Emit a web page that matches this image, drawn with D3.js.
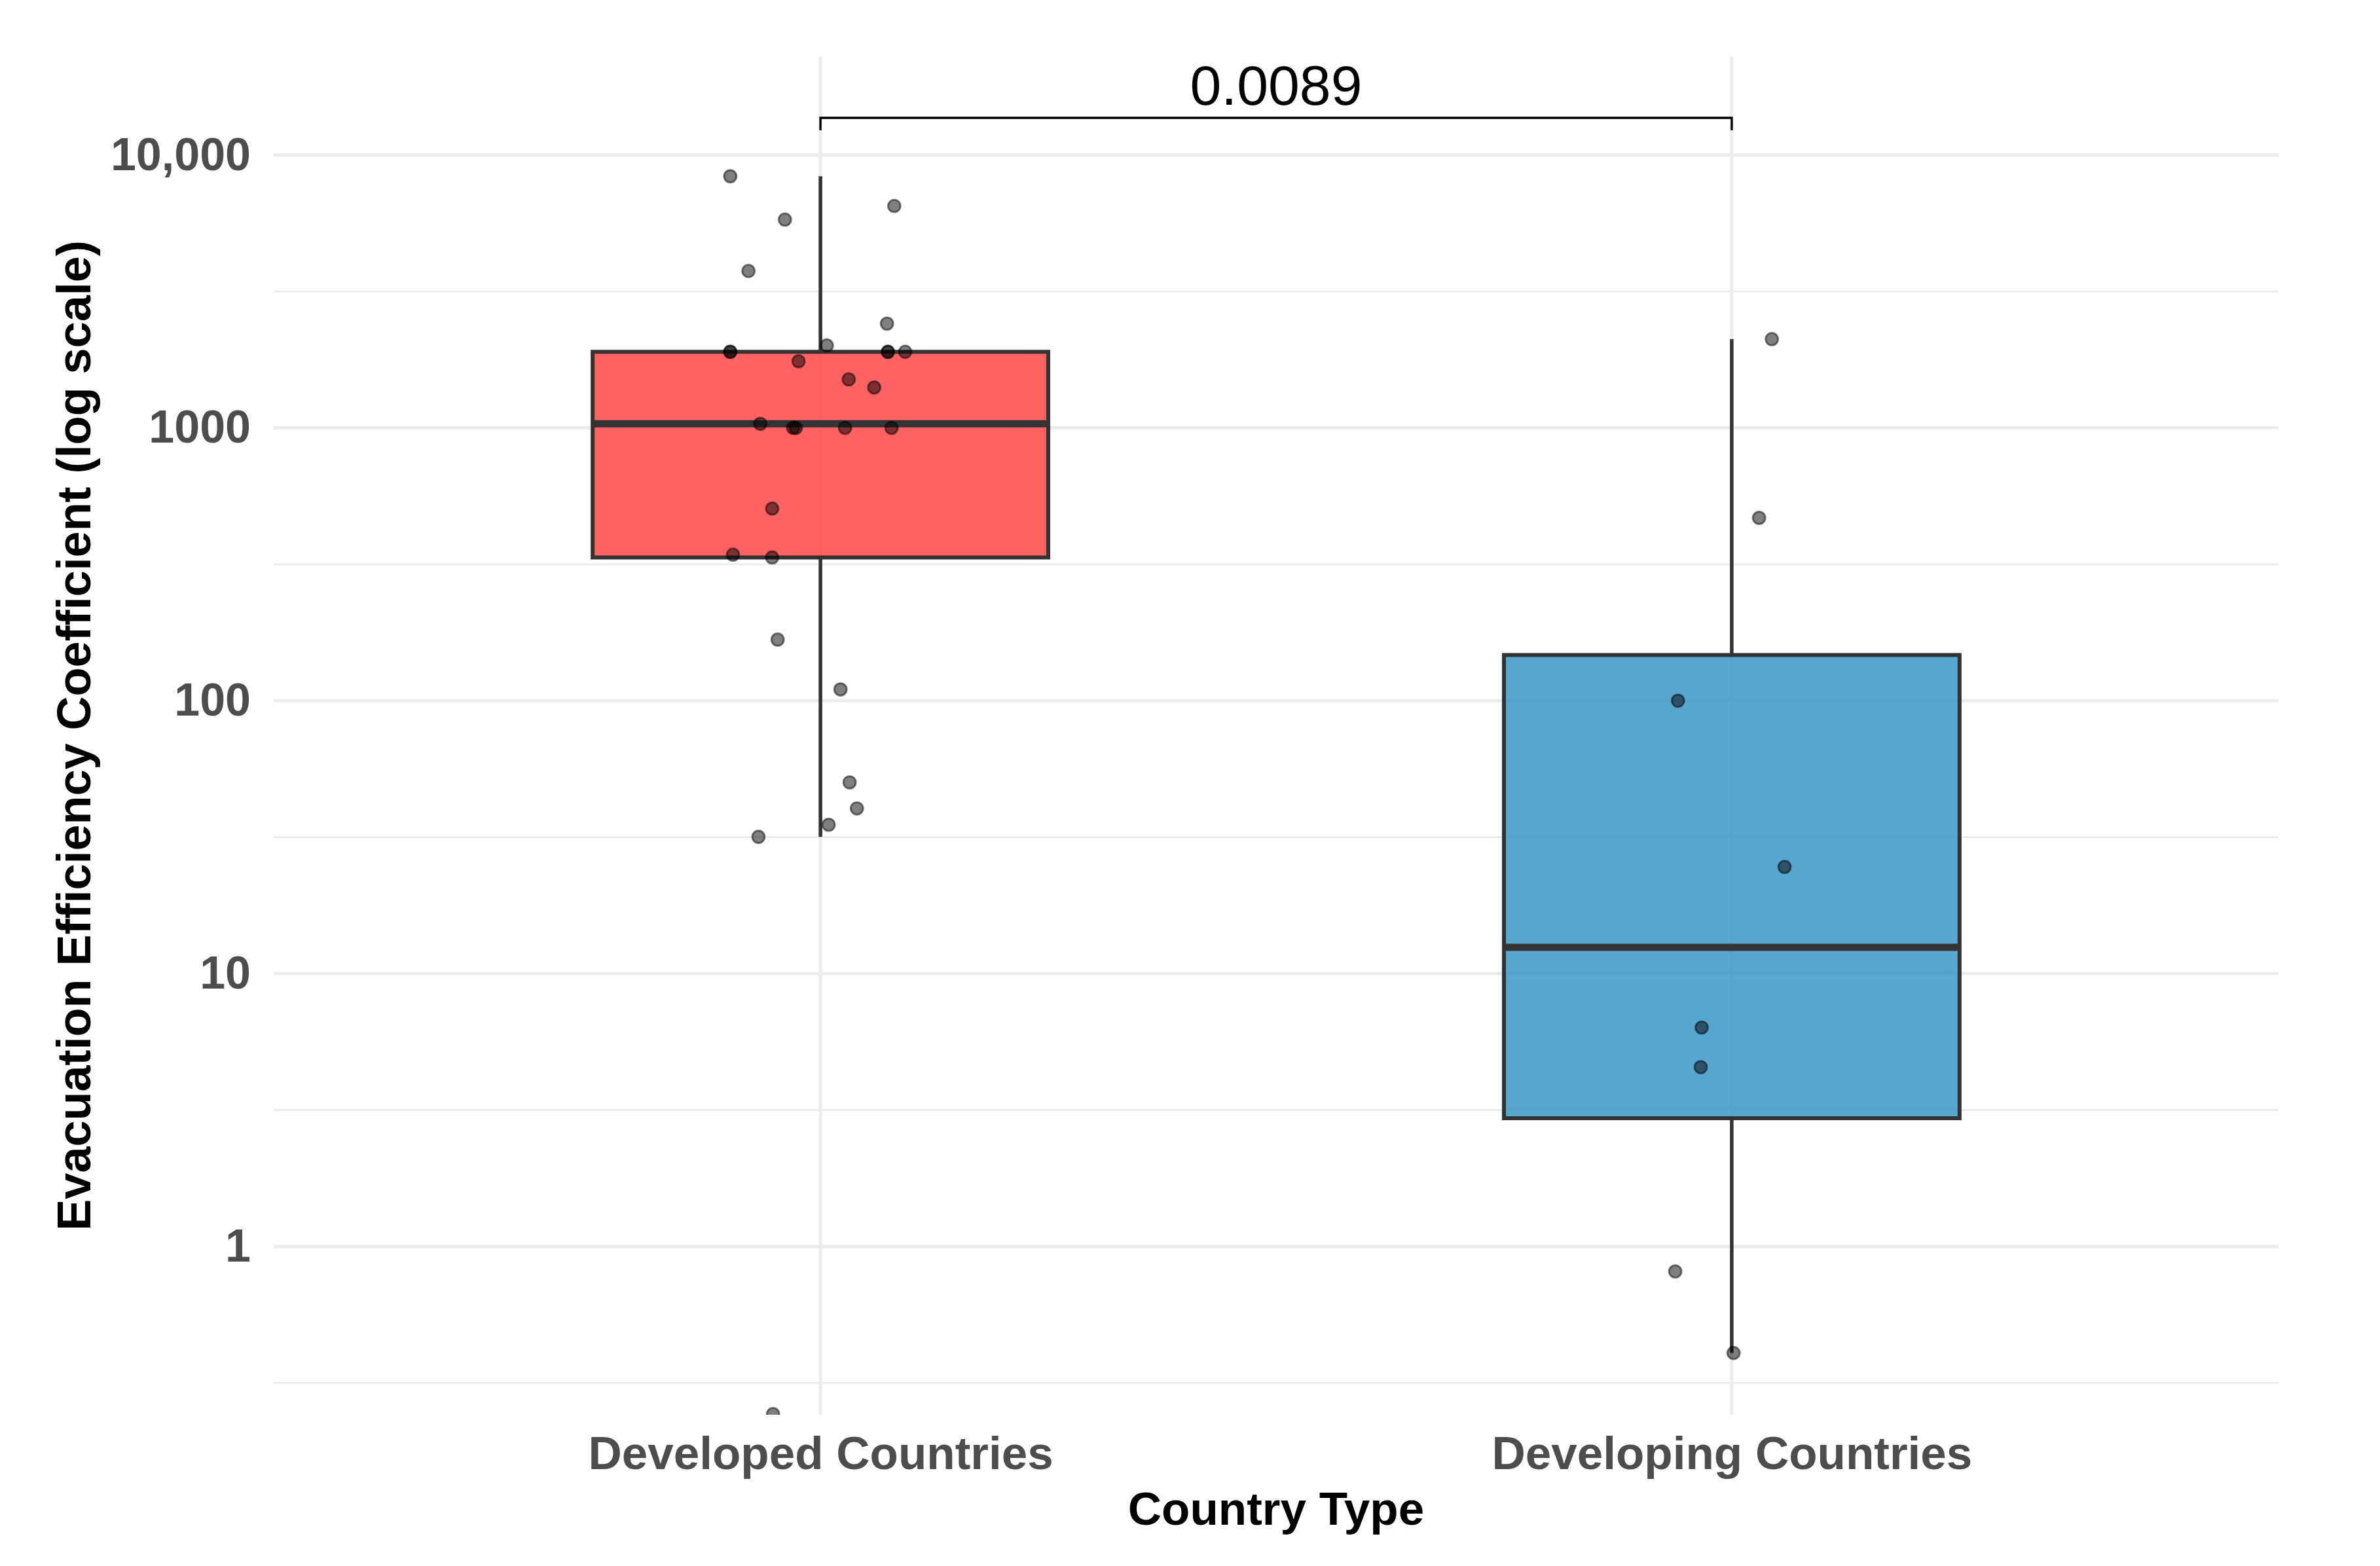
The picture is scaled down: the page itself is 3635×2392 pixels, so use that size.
<!DOCTYPE html>
<html lang="en">
<head>
<meta charset="UTF-8">
<title>Evacuation Efficiency Coefficient</title>
<script src="https://cdnjs.cloudflare.com/ajax/libs/d3/7.8.5/d3.min.js"></script>
<style>
  html, body { margin: 0; padding: 0; background: #fff; }
  svg { display: block; }
  text { font-family: "Liberation Sans", Arial, sans-serif; }
</style>
</head>
<body>
<div id="chart"></div>
<script>
// ---- data ----
var categories = ["Developed Countries", "Developing Countries"];

var developedValues = [8356, 6505, 5798, 3758, 2410, 2005, 1900, 1900, 1900, 1900, 1900,
  1754, 1506, 1406, 1035, 1000, 1000, 1000, 1000, 506, 343, 335, 167.5, 110,
  50.2, 40.3, 35.1, 31.7, 0.243];
// horizontal jitter, in category steps
var developedJitter = [-0.099, 0.081, -0.039, -0.079, 0.073, 0.007, -0.099, 0.074, 0.093, -0.099, 0.074,
  -0.024, 0.031, 0.059, -0.066, -0.030, -0.027, 0.027, 0.078, -0.053, -0.096, -0.053, -0.047, 0.022,
  0.032, 0.040, 0.009, -0.068, -0.052];

var developingValues = [2115, 468, 100, 24.6, 6.34, 4.54, 0.81, 0.407];
var developingJitter = [0.044, 0.030, -0.059, 0.058, -0.033, -0.034, -0.062, 0.002];

var yTickValues = [1, 10, 100, 1000, 10000];
var yTickLabels = ["1", "10", "100", "1000", "10,000"];
var yMinorValues = [0.316, 3.162, 31.62, 316.2, 3162];
var pValueLabel = "0.0089";

var boxColors = {"Developed Countries": "#FF3B3B", "Developing Countries": "#2E91C4"};

// ---- layout ----
var W = 3635, H = 2392;
var margin = {top: 86, right: 155, bottom: 231, left: 418};
var pw = W - margin.left - margin.right,
    ph = H - margin.top - margin.bottom;

var svg = d3.select("#chart").append("svg")
  .attr("width", W).attr("height", H);

var x = d3.scalePoint().domain(categories).range([margin.left, margin.left + pw]).padding(0.6);
var step = x.step();
var y = d3.scaleLog().domain([0.2416, 23000]).range([margin.top + ph, margin.top]);

svg.append("clipPath").attr("id", "panel")
  .append("rect").attr("x", margin.left).attr("y", margin.top).attr("width", pw).attr("height", ph);

// grid
var grid = svg.append("g");
grid.selectAll("line.minor").data(yMinorValues).enter().append("line")
  .attr("x1", margin.left).attr("x2", margin.left + pw)
  .attr("y1", function(d){ return y(d); }).attr("y2", function(d){ return y(d); })
  .style("stroke", "#EBEBEB").style("stroke-width", 2.8);
grid.selectAll("line.major").data(yTickValues).enter().append("line")
  .attr("x1", margin.left).attr("x2", margin.left + pw)
  .attr("y1", function(d){ return y(d); }).attr("y2", function(d){ return y(d); })
  .style("stroke", "#EBEBEB").style("stroke-width", 5);
grid.selectAll("line.vert").data(categories).enter().append("line")
  .attr("x1", function(d){ return x(d); }).attr("x2", function(d){ return x(d); })
  .attr("y1", margin.top).attr("y2", margin.top + ph)
  .style("stroke", "#EBEBEB").style("stroke-width", 5);

// box stats on log scale (R type 7 quantiles)
function stats(vals) {
  var l = vals.map(function(v){ return Math.log10(v); }).sort(d3.ascending);
  var q1 = d3.quantile(l, 0.25), med = d3.quantile(l, 0.5), q3 = d3.quantile(l, 0.75);
  var iqr = q3 - q1;
  var lo = d3.min(l.filter(function(v){ return v >= q1 - 1.5 * iqr; }));
  var hi = d3.max(l.filter(function(v){ return v <= q3 + 1.5 * iqr; }));
  return {q1: Math.pow(10, q1), med: Math.pow(10, med), q3: Math.pow(10, q3),
          lo: Math.pow(10, lo), hi: Math.pow(10, hi)};
}

var groups = [
  {cat: categories[0], values: developedValues, jitter: developedJitter},
  {cat: categories[1], values: developingValues, jitter: developingJitter}
];
groups.forEach(function(g){ g.s = stats(g.values); });

var boxW = step * 0.5;
var boxes = svg.append("g").attr("clip-path", "url(#panel)");

groups.forEach(function(g) {
  var cx = x(g.cat), s = g.s;
  boxes.append("line").attr("x1", cx).attr("x2", cx).attr("y1", y(s.q3)).attr("y2", y(s.hi))
    .style("stroke", "#333333").style("stroke-width", 5.5);
  boxes.append("line").attr("x1", cx).attr("x2", cx).attr("y1", y(s.q1)).attr("y2", y(s.lo))
    .style("stroke", "#333333").style("stroke-width", 5.5);
  boxes.append("rect")
    .attr("x", cx - boxW / 2).attr("width", boxW)
    .attr("y", y(s.q3)).attr("height", y(s.q1) - y(s.q3))
    .style("fill", boxColors[g.cat]).style("fill-opacity", 0.8)
    .style("stroke", "#333333").style("stroke-width", 6);
  boxes.append("line").attr("x1", cx - boxW / 2).attr("x2", cx + boxW / 2)
    .attr("y1", y(s.med)).attr("y2", y(s.med))
    .style("stroke", "#333333").style("stroke-width", 11);
});

// jittered points
var pts = svg.append("g").attr("clip-path", "url(#panel)");
groups.forEach(function(g) {
  pts.selectAll(null).data(g.values).enter().append("circle")
    .attr("cx", function(d, i){ return x(g.cat) + g.jitter[i] * step; })
    .attr("cy", function(d){ return y(d); })
    .attr("r", 9.5)
    .style("fill", "#000").style("fill-opacity", 0.5)
    .style("stroke", "#000").style("stroke-opacity", 0.5).style("stroke-width", 2.8);
});

// axes
var yAxis = d3.axisLeft(y).tickValues(yTickValues)
  .tickFormat(function(d, i){ return yTickLabels[i]; }).tickSize(0).tickPadding(35);
var gy = svg.append("g").attr("transform", "translate(" + margin.left + ",0)").call(yAxis);
gy.select(".domain").remove();
gy.selectAll("text").style("font-size", "70px").style("font-weight", "bold")
  .style("fill", "#4D4D4D").style("font-family", "'Liberation Sans', Arial, sans-serif");

var xAxis = d3.axisBottom(x).tickSize(0).tickPadding(33);
var gx = svg.append("g").attr("transform", "translate(0," + (margin.top + ph) + ")").call(xAxis);
gx.select(".domain").remove();
gx.selectAll("text").style("font-size", "71px").style("font-weight", "bold")
  .style("fill", "#4D4D4D").style("font-family", "'Liberation Sans', Arial, sans-serif");

// axis titles
svg.append("text")
  .attr("x", margin.left + pw / 2).attr("y", 2329)
  .attr("text-anchor", "middle")
  .style("font-size", "71px").style("font-weight", "bold").style("fill", "#000")
  .text("Country Type");

svg.append("text")
  .attr("transform", "translate(138," + (margin.top + ph / 2) + ") rotate(-90)")
  .attr("text-anchor", "middle")
  .style("font-size", "72px").style("font-weight", "bold").style("fill", "#000")
  .text("Evacuation Efficiency Coefficient (log scale)");

// significance bracket
var x1 = x(categories[0]), x2 = x(categories[1]);
var yb = 180, tick = 19;
svg.append("path")
  .attr("d", "M" + x1 + "," + (yb + tick) + "V" + yb + "H" + x2 + "V" + (yb + tick))
  .style("fill", "none").style("stroke", "#000").style("stroke-width", 3.4);
svg.append("text")
  .attr("x", (x1 + x2) / 2).attr("y", 160)
  .attr("text-anchor", "middle")
  .style("font-size", "86px").style("fill", "#000")
  .text(pValueLabel);
</script>
</body>
</html>
